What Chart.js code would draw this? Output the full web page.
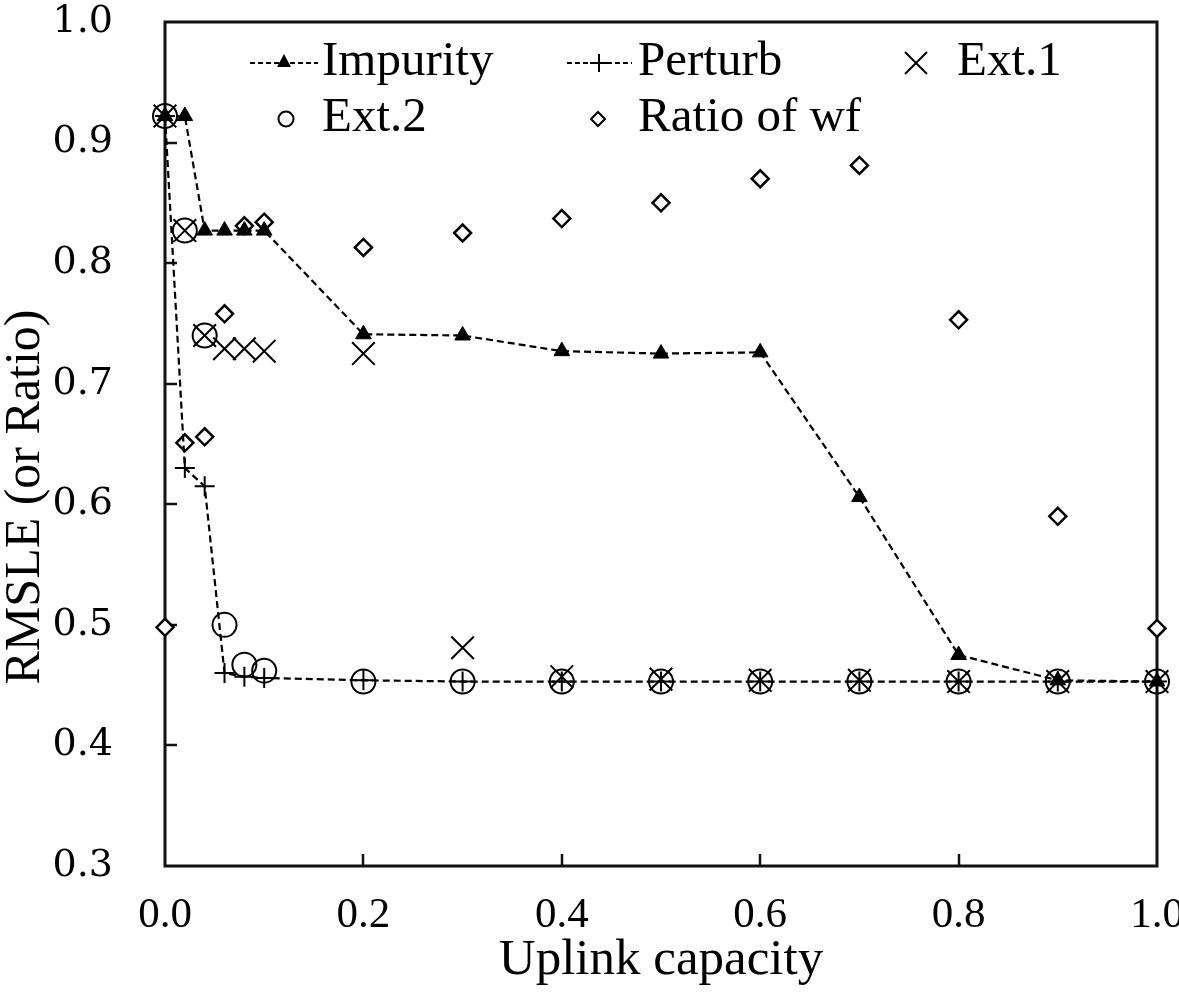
<!DOCTYPE html>
<html><head><meta charset="utf-8">
<script src="https://cdn.jsdelivr.net/npm/chart.js@4"></script>
<style>html,body{margin:0;padding:0;background:#fff}#wrap{width:1179px;height:994px}</style>
</head><body><div id="wrap"><canvas id="c" width="1179" height="994"></canvas></div>
<script>
const capacity = [0, 0.02, 0.04, 0.06, 0.08, 0.1, 0.2, 0.3, 0.4, 0.5, 0.6, 0.7, 0.8, 0.9, 1.0];
const impurity = [0.922, 0.922, 0.827, 0.827, 0.827, 0.827, 0.741, 0.740, 0.727, 0.725, 0.726, 0.606, 0.475, 0.454, 0.453];
const perturb  = [0.922, 0.630, 0.615, 0.460, 0.457, 0.456, 0.454, 0.453, 0.453, 0.453, 0.453, 0.453, 0.453, 0.453, 0.453];
const ext1     = [0.922, 0.827, 0.740, 0.729, 0.729, 0.727, 0.725, 0.481, 0.457, 0.455, 0.454, 0.454, 0.453, 0.453, 0.453];
const ext2     = [0.922, 0.827, 0.740, 0.500, 0.467, 0.462, 0.453, 0.453, 0.453, 0.453, 0.453, 0.453, 0.453, 0.453, 0.453];
const ratioWf  = [0.498, 0.651, 0.656, 0.758, 0.831, 0.834, 0.813, 0.825, 0.837, 0.850, 0.870, 0.881, 0.753, 0.590, 0.497];
const xTicks = [0.0, 0.2, 0.4, 0.6, 0.8, 1.0];
const yTicks = [0.3, 0.4, 0.5, 0.6, 0.7, 0.8, 0.9, 1.0];
const seriesNames = ['Impurity', 'Perturb', 'Ext.1', 'Ext.2', 'Ratio of wf'];
const xTitle = 'Uplink capacity';
const yTitle = 'RMSLE (or Ratio)';

const pts = arr => arr.map((v, i) => ({x: capacity[i], y: v}));
const SERIF = 'Liberation Serif';
Chart.defaults.font.family = SERIF;
Chart.defaults.color = '#000';

const framePlugin = {
  id: 'frame',
  beforeDatasetsDraw(chart) {
    const {ctx, chartArea: a, scales: {x, y}} = chart;
    ctx.save();
    ctx.strokeStyle = '#111';
    ctx.lineWidth = 3;
    ctx.strokeRect(a.left, a.top, a.right - a.left, a.bottom - a.top);
    ctx.lineWidth = 2.5;
    ctx.beginPath();
    yTicks.slice(1, -1).forEach(v => {
      const py = Math.round(y.getPixelForValue(v));
      ctx.moveTo(a.left, py); ctx.lineTo(a.left + 12, py);
    });
    xTicks.slice(1, -1).forEach(v => {
      const px = Math.round(x.getPixelForValue(v));
      ctx.moveTo(px, a.bottom); ctx.lineTo(px, a.bottom - 12);
    });
    ctx.stroke();
    ctx.restore();
  },
  afterDraw(chart) {
    const {ctx} = chart;
    ctx.save();
    ctx.fillStyle = '#000';
    ctx.font = '50px ' + SERIF;
    ctx.translate(26, 497);
    ctx.rotate(-Math.PI / 2);
    ctx.textAlign = 'center';
    ctx.textBaseline = 'middle';
    ctx.fillText(yTitle, 0, 0);
    ctx.restore();

    // legend
    ctx.save();
    ctx.fillStyle = '#000';
    ctx.strokeStyle = '#000';
    ctx.font = '49px ' + SERIF;
    ctx.textBaseline = 'alphabetic';
    ctx.textAlign = 'left';
    const r1 = 75, r2 = 131;
    const dashLine = (x0, x1, yy) => {
      ctx.save(); ctx.lineWidth = 2; ctx.setLineDash([5, 3]);
      ctx.beginPath(); ctx.moveTo(x0, yy); ctx.lineTo(x1, yy); ctx.stroke(); ctx.restore();
    };
    // Impurity
    dashLine(250, 318, r1 - 12);
    ctx.beginPath();
    ctx.moveTo(284, r1 - 21); ctx.lineTo(291, r1 - 8); ctx.lineTo(277, r1 - 8); ctx.closePath(); ctx.fill();
    ctx.fillText(seriesNames[0], 322, r1);
    // Perturb
    dashLine(567, 632, r1 - 12);
    ctx.lineWidth = 2;
    ctx.beginPath();
    ctx.moveTo(599, r1 - 21); ctx.lineTo(599, r1 - 3);
    ctx.moveTo(590, r1 - 12); ctx.lineTo(608, r1 - 12);
    ctx.stroke();
    ctx.fillText(seriesNames[1], 638, r1);
    // Ext.1
    ctx.beginPath();
    ctx.moveTo(905, r1 - 23); ctx.lineTo(927, r1 - 1);
    ctx.moveTo(927, r1 - 23); ctx.lineTo(905, r1 - 1);
    ctx.stroke();
    ctx.fillText(seriesNames[2], 957, r1);
    // Ext.2
    ctx.beginPath(); ctx.arc(286, r2 - 12, 7.5, 0, Math.PI * 2); ctx.stroke();
    ctx.fillText(seriesNames[3], 322, r2);
    // Ratio of wf
    ctx.beginPath();
    ctx.moveTo(598, r2 - 19); ctx.lineTo(605, r2 - 12); ctx.lineTo(598, r2 - 5); ctx.lineTo(591, r2 - 12); ctx.closePath(); ctx.stroke();
    ctx.fillText(seriesNames[4], 638, r2);
    ctx.restore();
  }
};

new Chart(document.getElementById('c'), {
  type: 'scatter',
  data: {
    datasets: [
      {label: seriesNames[0], data: pts(impurity), showLine: true, borderColor: '#000', borderWidth: 2.2, borderDash: [7, 4],
       pointStyle: 'triangle', pointRadius: 9, pointBackgroundColor: '#000', pointBorderColor: '#000', pointBorderWidth: 1, clip: false},
      {label: seriesNames[1], data: pts(perturb), showLine: true, borderColor: '#000', borderWidth: 2.2, borderDash: [7, 4],
       pointStyle: 'cross', pointRadius: 10, pointBorderColor: '#000', pointBorderWidth: 2, clip: false},
      {label: seriesNames[2], data: pts(ext1), showLine: false, pointStyle: 'crossRot', pointRadius: 16,
       pointBorderColor: '#000', pointBorderWidth: 2, clip: false},
      {label: seriesNames[3], data: pts(ext2), showLine: false, pointStyle: 'circle', pointRadius: 12,
       pointBackgroundColor: 'rgba(0,0,0,0)', pointBorderColor: '#000', pointBorderWidth: 2, clip: false},
      {label: seriesNames[4], data: pts(ratioWf), showLine: false, pointStyle: 'rectRot', pointRadius: 8.5,
       pointBackgroundColor: '#fff', pointBorderColor: '#000', pointBorderWidth: 2.5, clip: false}
    ]
  },
  options: {
    responsive: false,
    devicePixelRatio: 1,
    animation: false,
    layout: {padding: {top: 22, right: 22, left: 0, bottom: 0}},
    plugins: {legend: {display: false}, tooltip: {enabled: false}},
    scales: {
      x: {
        type: 'linear', min: 0, max: 1,
        afterBuildTicks: s => { s.ticks = xTicks.map(v => ({value: v})); },
        afterFit: s => { s.height = 128; s.paddingLeft = 0; s.paddingRight = 0; },
        grid: {display: false, drawTicks: false},
        border: {display: false},
        ticks: {autoSkip: false, maxRotation: 0, padding: 24, font: {family: SERIF, size: 43}, color: '#000',
                callback: v => Number(v).toFixed(1)},
        title: {display: true, text: xTitle, font: {family: SERIF, size: 51, lineHeight: 1.2}, color: '#000',
                padding: {top: 0, bottom: 3}}
      },
      y: {
        type: 'linear', min: 0.3, max: 1.0,
        afterBuildTicks: s => { s.ticks = yTicks.map(v => ({value: v})); },
        afterFit: s => { s.width = 165; s.paddingTop = 0; s.paddingBottom = 0; },
        grid: {display: false, drawTicks: false},
        border: {display: false},
        ticks: {autoSkip: false, padding: 52, font: {family: 'DejaVu Serif', size: 38}, color: '#000',
                callback: v => Number(v).toFixed(1)}
      }
    }
  },
  plugins: [framePlugin]
});
</script>
</body></html>
